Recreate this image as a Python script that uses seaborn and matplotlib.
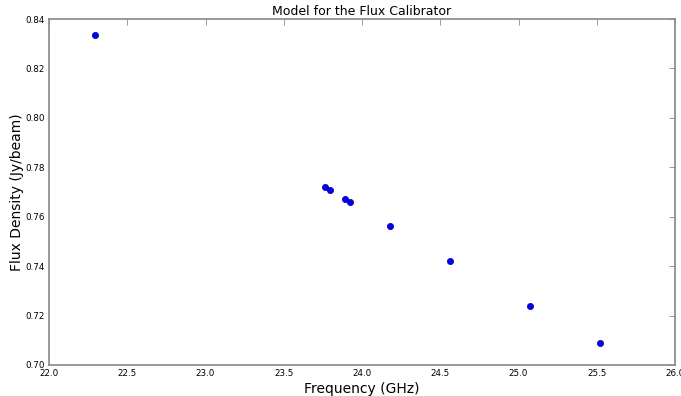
import matplotlib
matplotlib.use("Agg")
import matplotlib.pyplot as plt
import seaborn as sns
import pandas as pd

freq = [22.294, 23.764, 23.797, 23.889, 23.923, 24.179, 24.562, 25.073, 25.523]
flux = [0.8335, 0.7720, 0.7708, 0.7672, 0.7658, 0.7562, 0.7419, 0.7239, 0.7088]

df = pd.DataFrame({"freq": freq, "flux": flux})

sns.set_style("white")
plt.rcParams['font.family'] = ['DejaVu Sans']
plt.rcParams['text.color'] = 'black'
plt.rcParams['axes.labelcolor'] = 'black'
plt.rcParams['xtick.color'] = 'black'
plt.rcParams['ytick.color'] = 'black'

fig = plt.figure(figsize=(6.81, 3.96), dpi=100)
ax = fig.add_axes([49/681, 1 - 365/396, (675-49)/681, (365-19)/396])
sns.scatterplot(data=df, x="freq", y="flux", ax=ax, color="#0000ff",
                edgecolor="#000080", linewidth=0.5, s=20, zorder=3)
ax.set_xlim(22.0, 26.0)
ax.set_ylim(0.70, 0.84)
ax.set_xticks([22.0, 22.5, 23.0, 23.5, 24.0, 24.5, 25.0, 25.5, 26.0])
ax.set_yticks([0.70, 0.72, 0.74, 0.76, 0.78, 0.80, 0.82, 0.84])
ax.xaxis.set_major_formatter(matplotlib.ticker.FormatStrFormatter('%.1f'))
ax.yaxis.set_major_formatter(matplotlib.ticker.FormatStrFormatter('%.2f'))
ax.tick_params(direction='in', length=4, width=0.6, color='#888888',
               labelcolor='black', labelsize=6.3, top=True, right=True, pad=3)
for s in ax.spines.values():
    s.set_color('#888888')
    s.set_linewidth(1.2)
ax.set_title("Model for the Flux Calibrator", fontsize=9, pad=3, color='black')
ax.set_xlabel("Frequency (GHz)", fontsize=10, labelpad=3)
ax.set_ylabel("Flux Density (Jy/beam)", fontsize=10, labelpad=1)
fig.savefig("out.png", dpi=100)
